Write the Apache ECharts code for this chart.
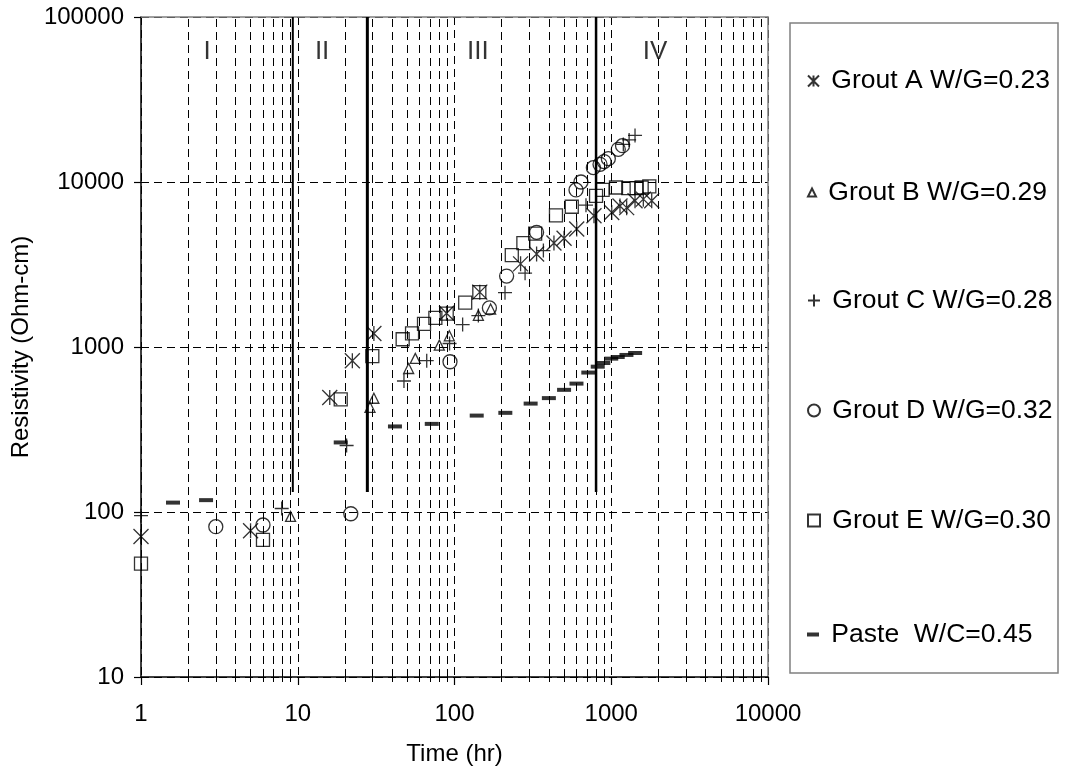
<!DOCTYPE html>
<html><head><meta charset="utf-8">
<script src="https://cdn.jsdelivr.net/npm/echarts@6/dist/echarts.min.js"></script>
<style>html,body{margin:0;padding:0;background:#fff}#c{width:1066px;height:771px}</style>
</head><body><div id="c"></div>
<script>
// ---- data (time hr, resistivity Ohm-cm) ----
const seriesNames = ['Grout A W/G=0.23','Grout B W/G=0.29','Grout C W/G=0.28','Grout D W/G=0.32','Grout E W/G=0.30','Paste  W/C=0.45'];
const groutA = [[1,71],[5,77],[16,494],[22.3,826],[30.6,1206],[89,1600],[145,2150],[264,3190],[334,3660],[431,4270],[500,4560],[602,5190],[776,6240],[1007,6530],[1137,7160],[1254,6990],[1418,7690],[1602,7870],[1812,7690]];
const groutB = [[9,94],[28.9,431],[30.6,489],[51,741],[56.2,853],[80,1026],[92.7,1169],[142,1556],[170,1700]];
const groutC = [[1,95],[7.9,105],[20.5,253],[47.6,622],[66.5,826],[93,1050],[112.7,1368],[142,1550],[210,2133],[282,2800],[369,3840],[690,7240],[1194,16900],[1300,18000],[1418,19150]];
const groutD = [[3,81.5],[6,83.4],[21.8,97.6],[93.6,814],[167,1726],[215,2692],[334,4955],[596,8950],[641,10000],[769,12220],[848,12800],[900,13300],[958,13840],[1109,15770],[1180,16600]];
const groutE = [[1,48.7],[6,67.8],[18.8,482],[29.9,880],[46.7,1114],[53.6,1211],[63.9,1380],[75.5,1500],[89.2,1592],[117,1855],[144,2152],[232,3600],[275,4267],[327,4870],[444,6270],[560,7080],[800,8250],[881,8950],[1072,9260],[1284,9180],[1452,9180],[1563,9260],[1749,9400]];
const paste = [[1.6,114],[2.6,118],[18.8,264],[41.7,330],[71.6,342],[138.6,384],[211,399],[306,454],[400,490],[500,550],[600,600],[714,700],[820,760],[890,800],[1000,850],[1100,870],[1250,895],[1420,920]];
// phase boundaries and labels
const phaseLineTimes = [9.3, 27.8, 800];
const phaseLineTop = 100000;
const phaseLineBottom = 132;
const phaseLabels = ['I','II','III','IV'];
const phaseLabelTimes = [2.64, 14.3, 141, 1900];
const phaseLabelValue = 61500;
// axes
const xMin = 1, xMax = 10000, yMin = 10, yMax = 100000;
const decades = [1,10,100,1000];
const minorSteps = [2,3,4,5,6,7,8,9];
const minorValues = [];
decades.forEach(d => minorSteps.forEach(k => minorValues.push(k*d)));

const FONT = 'Liberation Sans, Arial, sans-serif';
const seriesData = [groutA, groutB, groutC, groutD, groutE, paste];
const symbols = [
  'path://M0,0L14,14M14,0L0,14M7,0L7,14',
  'triangle',
  'path://M0,7L14,7M7,0L7,14',
  'circle',
  'rect',
  'rect'
];
const sizes = [15, 10, 14, 14, 13, [14,4]];
const legendSizes = [[11,11],[8,8],[12,12],[12,12],[12,12],[12,4]];
const legendCenters = [73,183,293,403,513,623];

const series = seriesData.map((d,i) => ({
  name: seriesNames[i], type: 'scatter', data: d, z: 5,
  symbol: symbols[i], symbolSize: sizes[i],
  itemStyle: i === 5 ? {color:'#000', borderWidth:0} : {color:'transparent', borderColor:'#000', borderWidth:1.3},
  emphasis: {disabled: true}
}));
const phaseWidths = [2, 3, 2.5];
phaseLineTimes.forEach((t,i) => series.push({
  type:'line', data:[[t,phaseLineTop],[t,phaseLineBottom]], symbol:'none', z:4,
  lineStyle:{color:'#000', width:phaseWidths[i]}, silent:true
}));
series.push({
  type:'scatter', symbolSize:0, z:6, silent:true,
  data: phaseLabels.map((n,i)=>({name:n, value:[phaseLabelTimes[i], phaseLabelValue]})),
  label:{show:true, position:'inside', formatter: p => p.name, fontSize:26, color:'#000', fontFamily:FONT}
});
series.push({
  type:'scatter', data:[], z:1, silent:true,
  markLine:{silent:true, symbol:['none','none'], animation:false, label:{show:false},
    lineStyle:{color:'#000', width:1, type:[8,5]},
    emphasis:{disabled:true},
    data: minorValues.map(v=>({xAxis:v}))}
});

const legends = seriesNames.map((n,i) => ({
  data:[{name:n}], orient:'vertical', selectedMode:false,
  left: 807, top: legendCenters[i] - legendSizes[i][1]/2,
  itemWidth: legendSizes[i][0], itemHeight: legendSizes[i][1], padding:0,
  formatter: s => ' ' + s,
  textStyle:{fontSize:26.5, color:'#000', fontFamily:FONT}
}));

const baseLog = {type:'log', logBase:10, min:xMin, max:xMax};
const option = {
  animation:false,
  backgroundColor:'#fff',
  grid:{left:141, right:298, top:17, bottom:91},
  legend: legends,
  graphic:[{type:'rect', shape:{x:790, y:23, width:268, height:650}, style:{fill:'none', stroke:'#808080', lineWidth:1.5}, z:0}],
  xAxis:[
    Object.assign({}, baseLog, {position:'bottom',
      name:'Time (hr)', nameLocation:'middle', nameGap:65,
      nameTextStyle:{fontSize:24, color:'#000', fontFamily:FONT},
      axisLine:{lineStyle:{color:'#000', width:1.5}},
      axisTick:{show:true, length:8, lineStyle:{color:'#000', width:1.2}},
      axisLabel:{fontSize:24, color:'#000', fontFamily:FONT, margin:25, formatter: v => String(Math.round(v))},
      splitLine:{show:true, lineStyle:{color:'#000', width:1, type:[8,5]}}}),
    Object.assign({}, baseLog, {position:'top',
      axisLine:{show:true, lineStyle:{color:'#808080', width:1.5}},
      axisTick:{show:false}, axisLabel:{show:false}, splitLine:{show:false}}),
    Object.assign({}, baseLog, {position:'bottom',
      axisLine:{show:false},
      axisTick:{show:true, inside:true, length:5, customValues:minorValues, lineStyle:{color:'#000', width:1}},
      axisLabel:{show:false}, splitLine:{show:false}}),
    Object.assign({}, baseLog, {position:'bottom',
      axisLine:{show:false},
      axisTick:{show:true, inside:false, length:5, customValues:minorValues, lineStyle:{color:'#000', width:1}},
      axisLabel:{show:false}, splitLine:{show:false}})
  ],
  yAxis:[
    {type:'log', logBase:10, min:yMin, max:yMax, position:'left',
      name:'Resistivity (Ohm-cm)', nameLocation:'middle', nameGap:105, nameRotate:90,
      nameTextStyle:{fontSize:24, color:'#000', fontFamily:FONT},
      axisLine:{show:true, lineStyle:{color:'#000', width:1.5}},
      axisTick:{show:true, length:7, lineStyle:{color:'#000', width:1.2}},
      axisLabel:{fontSize:24, color:'#000', fontFamily:FONT, margin:17, formatter: v => String(Math.round(v))},
      splitLine:{show:true, lineStyle:{color:'#000', width:1, type:[8,5]}}},
    {type:'log', logBase:10, min:yMin, max:yMax, position:'right',
      axisLine:{show:true, lineStyle:{color:'#808080', width:1.5}},
      axisTick:{show:false}, axisLabel:{show:false}, splitLine:{show:false}}
  ],
  series: series
};
const chart = echarts.init(document.getElementById('c'), null, {renderer:'canvas', devicePixelRatio:1});
chart.setOption(option);
</script></body></html>
